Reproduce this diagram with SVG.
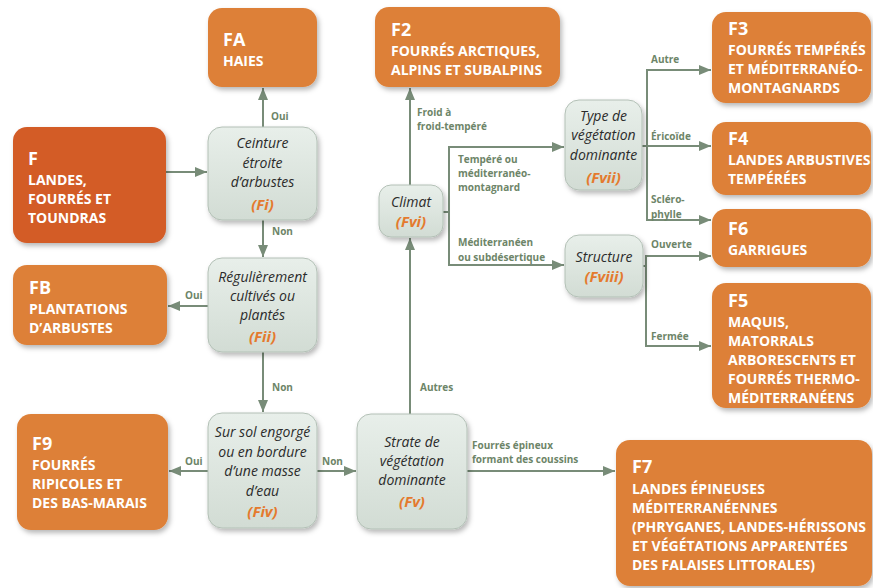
<svg xmlns="http://www.w3.org/2000/svg" width="873" height="588" viewBox="0 0 873 588">
<defs>
  <filter id="sh" x="-20%" y="-20%" width="140%" height="140%">
    <feDropShadow dx="2" dy="3" stdDeviation="2.5" flood-color="#000" flood-opacity="0.28"/>
  </filter>
  <linearGradient id="dg" x1="0" y1="0" x2="0" y2="1">
    <stop offset="0" stop-color="#E8EFEA"/>
    <stop offset="1" stop-color="#D2DCD4"/>
  </linearGradient>
  <marker id="ah" viewBox="0 0 12 10" refX="12" refY="5" markerWidth="12" markerHeight="10" markerUnits="userSpaceOnUse" orient="auto">
    <path d="M0,0 L12,5 L0,10 z" fill="#788C78"/>
  </marker>
  <style>
    .o{fill:#DD8038;filter:url(#sh)}
    .od{fill:#D35B27;filter:url(#sh)}
    .d{fill:url(#dg);stroke:#B3C0B6;stroke-width:1;filter:url(#sh)}
    .t{font-family:"Open Sans","Liberation Sans",sans-serif;font-weight:bold;fill:#fff;font-size:14px}
    .c{font-family:"Open Sans","Liberation Sans",sans-serif;font-weight:bold;fill:#fff;font-size:18px}
    .q{font-family:"Open Sans","Liberation Sans",sans-serif;font-style:italic;fill:#2B2B2B;font-size:14px;text-anchor:middle}
    .k{font-family:"Open Sans","Liberation Sans",sans-serif;font-style:italic;font-weight:bold;fill:#E47A2E;font-size:15px;text-anchor:middle}
    .l{font-family:"Open Sans","Liberation Sans",sans-serif;font-weight:bold;fill:#6D8568;font-size:10px}
    .e{fill:none;stroke:#788C78;stroke-width:2}
    .a{marker-end:url(#ah)}
  </style>
</defs>
<rect width="873" height="588" fill="#fff"/>

<g id="connectors">
  <path class="e a" d="M166,172 H207"/>
  <path class="e a" d="M263,127 V88"/>
  <path class="e a" d="M263,220 V257"/>
  <path class="e a" d="M208,306 H168"/>
  <path class="e a" d="M263,352 V412"/>
  <path class="e a" d="M208,471 H169"/>
  <path class="e a" d="M317,471 H356"/>
  <path class="e a" d="M467,471 H615"/>
  <path class="e a" d="M410,414 V238"/>
  <path class="e a" d="M410,185 V88"/>
  <path class="e" d="M443,212 H449 M449,146 V266"/>
  <path class="e a" d="M448,147 H564"/>
  <path class="e a" d="M448,265 H564"/>
  <path class="e" d="M642,146 H647 M647,69 V221"/>
  <path class="e a" d="M646,70 H711"/>
  <path class="e a" d="M646,146 H711"/>
  <path class="e a" d="M646,220 H711"/>
  <path class="e" d="M643,266 H646 M646,255 V347"/>
  <path class="e a" d="M645,256 H711"/>
  <path class="e a" d="M645,346 H711"/>
  <text class="l" x="271" y="120">Oui</text>
  <text class="l" x="272" y="235">Non</text>
  <text class="l" x="185" y="299">Oui</text>
  <text class="l" x="272" y="391">Non</text>
  <text class="l" x="185" y="465">Oui</text>
  <text class="l" x="322" y="465">Non</text>
  <text class="l" x="420" y="391">Autres</text>
  <text class="l" x="417" y="116">Froid à</text>
  <text class="l" x="417" y="130">froid-tempéré</text>
  <text class="l" x="458" y="163">Tempéré ou</text>
  <text class="l" x="458" y="177">méditerranéo-</text>
  <text class="l" x="458" y="191">montagnard</text>
  <text class="l" x="458" y="246">Méditerranéen</text>
  <text class="l" x="458" y="261">ou subdésertique</text>
  <text class="l" x="651" y="63">Autre</text>
  <text class="l" x="651" y="140">Éricoïde</text>
  <text class="l" x="651" y="203">Scléro-</text>
  <text class="l" x="651" y="218">phylle</text>
  <text class="l" x="651" y="248">Ouverte</text>
  <text class="l" x="651" y="340">Fermée</text>
  <text class="l" x="472" y="449">Fourrés épineux</text>
  <text class="l" x="472" y="463">formant des coussins</text>
</g>

<g id="F">
  <rect class="od" x="13" y="127" width="153" height="116" rx="14"/>
  <text class="c" x="28" y="165">F</text>
  <text class="t" x="28" y="185">LANDES,</text>
  <text class="t" x="28" y="204">FOURRÉS ET</text>
  <text class="t" x="28" y="223">TOUNDRAS</text>
</g>
<g id="FA">
  <rect class="o" x="208" y="8" width="109" height="79" rx="14"/>
  <text class="c" x="223" y="46">FA</text>
  <text class="t" x="223" y="66">HAIES</text>
</g>
<g id="FB">
  <rect class="o" x="13" y="265" width="154" height="80" rx="14"/>
  <text class="c" x="29" y="294">FB</text>
  <text class="t" x="29" y="314">PLANTATIONS</text>
  <text class="t" x="29" y="333">D’ARBUSTES</text>
</g>
<g id="F9">
  <rect class="o" x="17" y="414" width="151" height="116" rx="14"/>
  <text class="c" x="32" y="450">F9</text>
  <text class="t" x="32" y="470">FOURRÉS</text>
  <text class="t" x="32" y="489">RIPICOLES ET</text>
  <text class="t" x="32" y="508">DES BAS-MARAIS</text>
</g>
<g id="F2">
  <rect class="o" x="375" y="7" width="185" height="80" rx="14"/>
  <text class="c" x="391" y="36">F2</text>
  <text class="t" x="391" y="56">FOURRÉS ARCTIQUES,</text>
  <text class="t" x="391" y="75">ALPINS ET SUBALPINS</text>
</g>
<g id="F3">
  <rect class="o" x="712" y="12" width="159" height="91" rx="14"/>
  <text class="c" x="728" y="35">F3</text>
  <text class="t" x="728" y="55">FOURRÉS TEMPÉRÉS</text>
  <text class="t" x="728" y="74">ET MÉDITERRANÉO-</text>
  <text class="t" x="728" y="93">MONTAGNARDS</text>
</g>
<g id="F4">
  <rect class="o" x="712" y="122" width="159" height="73" rx="14"/>
  <text class="c" x="728" y="145">F4</text>
  <text class="t" x="728" y="165">LANDES ARBUSTIVES</text>
  <text class="t" x="728" y="184">TEMPÉRÉES</text>
</g>
<g id="F6">
  <rect class="o" x="712" y="209" width="159" height="58" rx="14"/>
  <text class="c" x="728" y="235">F6</text>
  <text class="t" x="728" y="255">GARRIGUES</text>
</g>
<g id="F5">
  <rect class="o" x="712" y="283" width="159" height="125" rx="14"/>
  <text class="c" x="728" y="307">F5</text>
  <text class="t" x="728" y="327">MAQUIS,</text>
  <text class="t" x="728" y="346">MATORRALS</text>
  <text class="t" x="728" y="365">ARBORESCENTS ET</text>
  <text class="t" x="728" y="384">FOURRÉS THERMO-</text>
  <text class="t" x="728" y="403">MÉDITERRANÉENS</text>
</g>
<g id="F7">
  <rect class="o" x="616" y="440" width="256" height="146" rx="14"/>
  <text class="c" x="632" y="473">F7</text>
  <text class="t" x="632" y="494">LANDES ÉPINEUSES</text>
  <text class="t" x="632" y="513">MÉDITERRANÉENNES</text>
  <text class="t" x="632" y="532">(PHRYGANES, LANDES-HÉRISSONS</text>
  <text class="t" x="632" y="551">ET VÉGÉTATIONS APPARENTÉES</text>
  <text class="t" x="632" y="570">DES FALAISES LITTORALES)</text>
</g>

<g id="Fi">
  <rect class="d" x="208" y="127" width="109" height="93" rx="14"/>
  <text class="q" x="262.5" y="148">Ceinture</text>
  <text class="q" x="262.5" y="168">étroite</text>
  <text class="q" x="262.5" y="187">d’arbustes</text>
  <text class="k" x="262.5" y="210">(Fi)</text>
</g>
<g id="Fii">
  <rect class="d" x="208" y="258" width="109" height="94" rx="14"/>
  <text class="q" x="262.5" y="282">Régulièrement</text>
  <text class="q" x="262.5" y="301">cultivés ou</text>
  <text class="q" x="262.5" y="320">plantés</text>
  <text class="k" x="262.5" y="342">(Fii)</text>
</g>
<g id="Fiv">
  <rect class="d" x="208" y="413" width="109" height="115" rx="14"/>
  <text class="q" x="262.5" y="437">Sur sol engorgé</text>
  <text class="q" x="262.5" y="457">ou en bordure</text>
  <text class="q" x="262.5" y="476">d’une masse</text>
  <text class="q" x="262.5" y="496">d’eau</text>
  <text class="k" x="262.5" y="517">(Fiv)</text>
</g>
<g id="Fv">
  <rect class="d" x="357" y="414" width="110" height="115" rx="14"/>
  <text class="q" x="412" y="447">Strate de</text>
  <text class="q" x="412" y="466">végétation</text>
  <text class="q" x="412" y="485">dominante</text>
  <text class="k" x="412" y="507">(Fv)</text>
</g>
<g id="Fvi">
  <rect class="d" x="379" y="185" width="64" height="52" rx="12"/>
  <text class="q" x="411" y="207">Climat</text>
  <text class="k" x="411" y="227">(Fvi)</text>
</g>
<g id="Fvii">
  <rect class="d" x="565" y="100" width="77" height="90" rx="14"/>
  <text class="q" x="603.5" y="121">Type de</text>
  <text class="q" x="603.5" y="140">végétation</text>
  <text class="q" x="603.5" y="160">dominante</text>
  <text class="k" x="603.5" y="183">(Fvii)</text>
</g>
<g id="Fviii">
  <rect class="d" x="565" y="235" width="78" height="62" rx="14"/>
  <text class="q" x="604" y="262">Structure</text>
  <text class="k" x="604" y="282">(Fviii)</text>
</g>
</svg>
